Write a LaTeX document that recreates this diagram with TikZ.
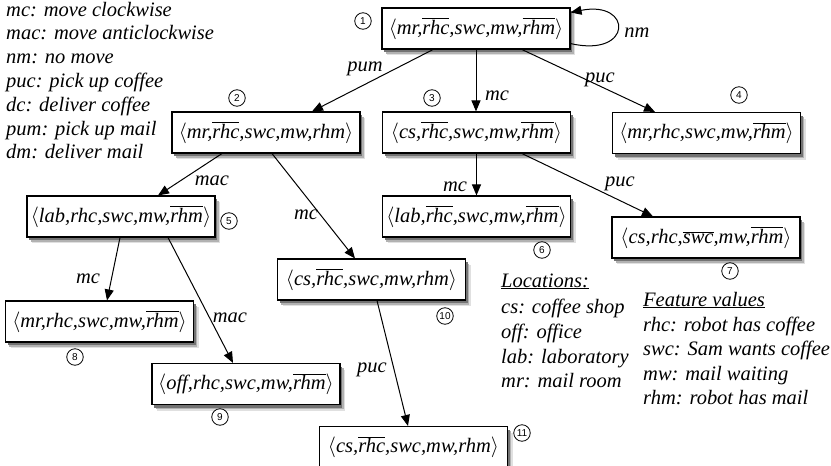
\documentclass[tikz,border=0pt]{standalone}
\usepackage{fontspec}
\setmainfont{Liberation Serif}
\setsansfont{Liberation Sans}
\usetikzlibrary{arrows.meta,shadows}
\newcommand\olbar[1]{$\overline{\mbox{#1}}$}
\newcommand\stv[1]{$\langle$#1$\rangle$}
\tikzset{
 state/.style={draw, line width=1.1pt, fill=white, minimum width=188pt, minimum height=41pt, inner sep=2pt,
   font=\fontsize{20.5}{24}\selectfont\itshape,
   drop shadow={shadow xshift=5pt, shadow yshift=-6pt, opacity=1, fill=black!12},
   drop shadow={shadow xshift=3.5pt, shadow yshift=-4.5pt, opacity=1, fill=black!30},
   drop shadow={shadow xshift=2pt, shadow yshift=-3pt, opacity=1, fill=black!55}},
 num/.style={circle, draw, line width=0.8pt, fill=white, inner sep=0.5pt, minimum size=16.5pt, font=\fontsize{10}{10}\selectfont\sffamily},
 lbl/.style={anchor=base, inner sep=0pt, font=\fontsize{20.5}{24}\selectfont\itshape},
 leg/.style={anchor=base west, inner sep=0pt, font=\fontsize{20.5}{24}\selectfont\itshape},
 arr/.style={line width=1pt, -{Triangle[length=11pt,width=9pt]}},
}
\begin{document}
\begin{tikzpicture}[x=1pt,y=-1pt]
\useasboundingbox (0,0) rectangle (831,466);
% states
\node[state] (n1) at (476,28.5) {\stv{mr,\olbar{rhc},swc,mw,\olbar{rhm}}};
\node[state] (n2) at (266,132.5) {\stv{mr,\olbar{rhc},swc,mw,rhm}};
\node[state] (n3) at (476.5,132.5) {\stv{cs,\olbar{rhc},swc,mw,\olbar{rhm}}};
\node[state] (n4) at (706.5,133) {\stv{mr,rhc,swc,mw,\olbar{rhm}}};
\node[state] (n5) at (121,216.5) {\stv{lab,rhc,swc,mw,\olbar{rhm}}};
\node[state] (n6) at (476.5,216.5) {\stv{lab,\olbar{rhc},swc,mw,\olbar{rhm}}};
\node[state] (n7) at (706,237.5) {\stv{cs,rhc,\olbar{swc},mw,\olbar{rhm}}};
\node[state] (n8) at (99.5,321.5) {\stv{mr,rhc,swc,mw,\olbar{rhm}}};
\node[state] (n9) at (246,384) {\stv{off,rhc,swc,mw,\olbar{rhm}}};
\node[state] (n10) at (371.5,279.5) {\stv{cs,\olbar{rhc},swc,mw,rhm}};
\node[state] (n11) at (413.5,447) {\stv{cs,\olbar{rhc},swc,mw,rhm}};
% numbers
\node[num] (c1) at (363,21) {1};
\node[num] (c2) at (237,98) {2};
\node[num] (c3) at (432,98) {3};
\node[num] (c4) at (739,95) {4};
\node[num] (c5) at (229,221) {5};
\node[num] (c6) at (542,250) {6};
\node[num] (c7) at (730,271) {7};
\node[num] (c8) at (75,357) {8};
\node[num] (c9) at (220,417) {9};
\node[num] (c10) at (445,316) {10};
\node[num] (c11) at (522,433) {11};
% edges
\draw[arr] ([xshift=-43pt]n1.south) -- ([xshift=46pt]n2.north);
\draw[arr] (n1.south) -- (n1.south |- n3.north);
\draw[arr] ([xshift=46pt]n1.south) -- ([xshift=-51.5pt]n4.north);
\draw[arr] ([yshift=6pt]n1.south east) .. controls (633,58) and (633,0) .. ([yshift=-5pt]n1.north east);
\draw[arr] ([xshift=-44pt]n2.south) -- ([xshift=37pt]n5.north);
\draw[arr] ([xshift=6pt]n2.south) -- ([xshift=-16.5pt]n10.north);
\draw[arr] (n3.south) -- (n6.north);
\draw[arr] ([xshift=45.5pt]n3.south) -- ([xshift=-53pt]n7.north);
\draw[arr] ([xshift=-1pt]n5.south) -- ([xshift=7.5pt]n8.north);
\draw[arr] ([xshift=47pt]n5.south) -- ([xshift=-13pt]n9.north);
\draw[arr] ([xshift=5.5pt]n10.south) -- ([xshift=-5.5pt]n11.north);
% edge labels
\node[lbl] (l1) at (365,71) {pum};
\node[lbl] (l2) at (497,100) {mc};
\node[lbl] (l3) at (600,82) {puc};
\node[lbl] (l4) at (637,37) {nm};
\node[lbl] (l5) at (212,185) {mac};
\node[lbl] (l6) at (306,219) {mc};
\node[lbl] (l7) at (455,191) {mc};
\node[lbl] (l8) at (620,186) {puc};
\node[lbl] (l9) at (88,283) {mc};
\node[lbl] (l10) at (230,322) {mac};
\node[lbl] (l11) at (372,372) {puc};
% legends
\foreach \t [count=\i] in {mc: move clockwise, mac: move anticlockwise, nm: no move, puc: pick up coffee, dc: deliver coffee, pum: pick up mail, dm: deliver mail}
  {\node[leg] (lg\i) at (6,{16+23.8*(\i-1)}) {\t};}
\node[leg] (loc0) at (501,287) {\underline{Locations:}};
\node[leg] (loc1) at (501,313) {cs: coffee shop};
\node[leg] (loc2) at (501,338) {off: office};
\node[leg] (loc3) at (501,363) {lab: laboratory};
\node[leg] (loc4) at (501,387) {mr: mail room};
\node[leg] (fv0) at (643,306) {\underline{Feature values}};
\node[leg] (fv1) at (643,331) {rhc: robot has coffee};
\node[leg] (fv2) at (643,355) {swc: Sam wants coffee};
\node[leg] (fv3) at (643,380) {mw: mail waiting};
\node[leg] (fv4) at (643,404) {rhm: robot has mail};
\end{tikzpicture}
\end{document}
